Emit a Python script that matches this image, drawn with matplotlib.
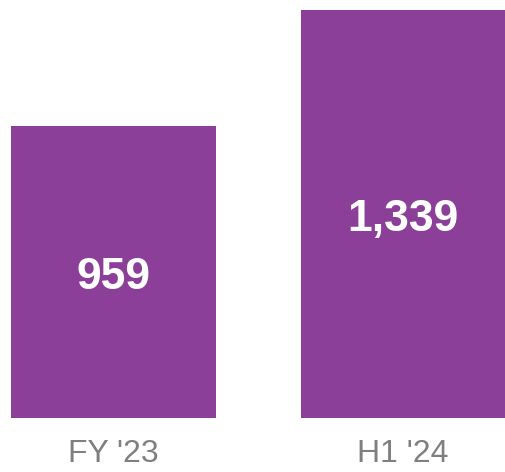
import matplotlib.pyplot as plt

categories = ["FY '23", "H1 '24"]
values = [959, 1339]
labels = ["959", "1,339"]

plt.rcParams["font.family"] = ["Liberation Sans", "DejaVu Sans"]

fig = plt.figure(figsize=(5.05, 4.72), dpi=100)
ax = fig.add_axes([0, 54 / 472, 1, 418 / 472])

x = range(len(values))
ax.bar(x, values, width=0.708, color="#8B3F98")

for xi, v, lab in zip(x, values, labels):
    ax.annotate(lab, (xi, v / 2), xytext=(0, -4), textcoords="offset points",
                ha="center", va="center", color="white",
                fontsize=32, fontweight="bold")

ax.set_xlim(-0.392, 1.352)
ax.set_ylim(0, 1373)
ax.set_xticks(list(x))
ax.set_xticklabels(categories, fontsize=23, color="#7f7f7f")
ax.tick_params(axis="x", length=0, pad=15)
ax.set_yticks([])
for s in ax.spines.values():
    s.set_visible(False)

fig.savefig("out.png", dpi=100)
